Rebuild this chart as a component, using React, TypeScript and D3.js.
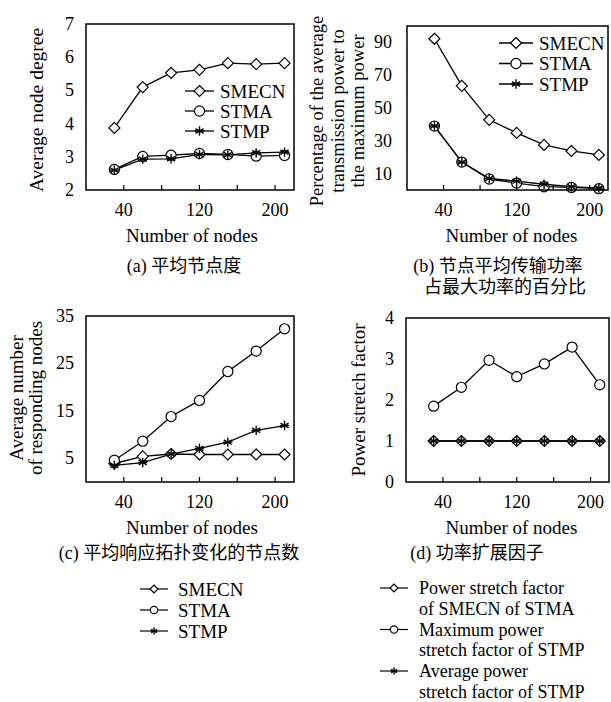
import React, { useEffect, useRef } from 'react';
import * as d3 from 'd3';

const nodeCounts = [30, 60, 90, 120, 150, 180, 210];
const xTicks = [40, 80, 120, 160, 200];
const xTickLabels = [40, 120, 200];

// (a) average node degree
const degreeSMECN = [3.87, 5.1, 5.53, 5.62, 5.82, 5.79, 5.82];
const degreeSTMA = [2.62, 3.01, 3.05, 3.1, 3.07, 3.02, 3.04];
const degreeSTMP = [2.6, 2.93, 2.94, 3.07, 3.06, 3.12, 3.14];
const degreeTicks = [2, 3, 4, 5, 6, 7];

// (b) percentage of average transmission power
const powerSMECN = [92.2, 63.5, 42.8, 34.8, 27.5, 23.8, 21.4];
const powerSTMA = [39, 17, 6.7, 4.2, 2.0, 1.6, 0.8];
const powerSTMP = [39, 17, 7.0, 5.4, 3.5, 2.0, 1.2];
const powerTicks = [10, 30, 50, 70, 90];

// (c) average number of responding nodes
const respSMECN = [3.9, 5.4, 5.9, 5.8, 5.8, 5.8, 5.8];
const respSTMA = [4.6, 8.6, 13.8, 17.2, 23.3, 27.6, 32.3];
const respSTMP = [3.5, 4.1, 5.9, 7.1, 8.4, 10.9, 11.9];
const respTicks = [5, 15, 25, 35];

// (d) power stretch factor
const stretchSMECN = [1, 1, 1, 1, 1, 1, 1];
const stretchMaxSTMP = [1.85, 2.31, 2.97, 2.57, 2.88, 3.29, 2.37];
const stretchAvgSTMP = [1, 1, 1, 1, 1, 1, 1];
const stretchTicks = [0, 1, 2, 3, 4];

const algoNames = ['SMECN', 'STMA', 'STMP'];
const stretchNames = [
  ['Power stretch factor', 'of SMECN of STMA'],
  ['Maximum power', 'stretch factor of STMP'],
  ['Average power', 'stretch factor of STMP']
];

const SERIF = "'Liberation Serif', 'Times New Roman', serif";
const CAPTION_FONT = "'Liberation Serif', 'Noto Sans CJK SC', serif";

const drawMarker = (g, type, x, y, s) => {
  if (type === 'diamond') {
    g.append('path')
      .attr('d', `M${x},${y - s}L${x + s},${y}L${x},${y + s}L${x - s},${y}Z`)
      .attr('fill', 'white')
      .attr('stroke', 'black')
      .attr('stroke-width', 1.2);
  } else if (type === 'circle') {
    g.append('circle')
      .attr('cx', x).attr('cy', y).attr('r', s * 0.92)
      .attr('fill', 'white')
      .attr('stroke', 'black')
      .attr('stroke-width', 1.2);
  } else {
    const r = s * 0.85;
    [90, 30, 150, 0].forEach(a => {
      const dx = Math.cos((a * Math.PI) / 180) * r;
      const dy = Math.sin((a * Math.PI) / 180) * r;
      g.append('line')
        .attr('x1', x - dx).attr('y1', y - dy)
        .attr('x2', x + dx).attr('y2', y + dy)
        .attr('stroke', 'black')
        .attr('stroke-width', 1.4);
    });
  }
};

const markers = ['diamond', 'circle', 'star'];

const drawPanel = (svg, p) => {
  const x = d3.scaleLinear().domain([0, 220]).range([p.left, p.right]);
  const y = d3.scaleLinear().domain(p.yDomain).range([p.bottom, p.top]);
  const g = svg.append('g');

  // series
  const line = d3.line()
    .x((d, i) => x(nodeCounts[i]))
    .y(d => y(d));
  p.series.forEach(s => {
    g.append('path')
      .datum(s.values)
      .attr('fill', 'none')
      .attr('stroke', 'black')
      .attr('stroke-width', 1.3)
      .attr('d', line);
  });
  p.series.forEach(s => {
    s.values.forEach((v, i) => drawMarker(g, s.marker, x(nodeCounts[i]), y(v), 5.5));
  });

  // frame
  g.append('rect')
    .attr('x', p.left).attr('y', p.top)
    .attr('width', p.right - p.left).attr('height', p.bottom - p.top)
    .attr('fill', 'none')
    .attr('stroke', 'black')
    .attr('stroke-width', 1.5);

  // x ticks (inward)
  xTicks.forEach(t => {
    g.append('line')
      .attr('x1', x(t)).attr('x2', x(t))
      .attr('y1', p.bottom).attr('y2', p.bottom - 5)
      .attr('stroke', 'black')
      .attr('stroke-width', 1.2);
  });
  xTickLabels.forEach(t => {
    g.append('text')
      .attr('x', x(t)).attr('y', p.bottom + 26)
      .attr('text-anchor', 'middle')
      .style('font-family', SERIF)
      .style('font-size', '18px')
      .text(t);
  });

  // y tick labels
  p.yTicks.forEach(t => {
    g.append('text')
      .attr('x', p.left - p.yTickGap).attr('y', y(t))
      .attr('text-anchor', 'end')
      .attr('dominant-baseline', 'central')
      .style('font-family', SERIF)
      .style('font-size', '18px')
      .text(t);
  });

  // x label
  g.append('text')
    .attr('x', (p.left + p.right) / 2 + p.xLabelShift).attr('y', p.bottom + 52)
    .attr('text-anchor', 'middle')
    .style('font-family', SERIF)
    .style('font-size', '19px')
    .text('Number of nodes');

  // y label
  p.yLabel.forEach((t, i) => {
    const cx = p.yLabelX[i];
    g.append('text')
      .attr('transform', `translate(${cx},${p.yLabelY}) rotate(-90)`)
      .attr('text-anchor', 'middle')
      .attr('dominant-baseline', 'central')
      .style('font-family', SERIF)
      .style('font-size', p.yLabelSize)
      .text(t);
  });

  // caption
  p.caption.forEach((t, i) => {
    g.append('text')
      .attr('x', p.captionX[i]).attr('y', p.captionY + i * 21)
      .attr('text-anchor', 'middle')
      .attr('dominant-baseline', 'central')
      .style('font-family', CAPTION_FONT)
      .style('font-size', '18px')
      .text(t);
  });

  // inner legend
  if (p.legend) {
    const L = p.legend;
    algoNames.forEach((name, i) => {
      const ly = L.y + i * L.step;
      g.append('line')
        .attr('x1', L.x1).attr('x2', L.x2)
        .attr('y1', ly).attr('y2', ly)
        .attr('stroke', 'black')
        .attr('stroke-width', 1.3);
      drawMarker(g, markers[i], (L.x1 + L.x2) / 2, ly, 5.5);
      g.append('text')
        .attr('x', L.x2 + 6).attr('y', ly)
        .attr('dominant-baseline', 'central')
        .style('font-family', SERIF)
        .style('font-size', '19px')
        .text(name);
    });
  }
};

const App = () => {
  const svgRef = useRef(null);

  useEffect(() => {
    const svg = d3.select(svgRef.current);
    svg.selectAll('*').remove();

    drawPanel(svg, {
      left: 86, right: 294, top: 24, bottom: 190,
      yDomain: [2, 7], yTicks: degreeTicks, yTickGap: 12,
      series: [
        { values: degreeSMECN, marker: 'diamond' },
        { values: degreeSTMA, marker: 'circle' },
        { values: degreeSTMP, marker: 'star' }
      ],
      yLabel: ['Average node degree'], yLabelX: [36], yLabelY: 110, yLabelSize: '19.5px',
      xLabelShift: 2,
      caption: ['(a) 平均节点度'], captionX: [184], captionY: 266,
      legend: { x1: 185, x2: 214, y: 91, step: 20 }
    });

    drawPanel(svg, {
      left: 407, right: 608, top: 26, bottom: 190,
      yDomain: [0, 100], yTicks: powerTicks, yTickGap: 15,
      series: [
        { values: powerSMECN, marker: 'diamond' },
        { values: powerSTMA, marker: 'circle' },
        { values: powerSTMP, marker: 'star' }
      ],
      yLabel: ['Percentage of the average', 'transmission power to', 'the maximum power'],
      yLabelX: [317, 337.5, 357.5], yLabelY: 111, yLabelSize: '18.5px',
      xLabelShift: 4,
      caption: ['(b) 节点平均传输功率', '占最大功率的百分比'], captionX: [498, 505], captionY: 266,
      legend: { x1: 499, x2: 533, y: 43, step: 20.5 }
    });

    drawPanel(svg, {
      left: 86, right: 294, top: 316, bottom: 482,
      yDomain: [0, 35], yTicks: respTicks, yTickGap: 12,
      series: [
        { values: respSMECN, marker: 'diamond' },
        { values: respSTMA, marker: 'circle' },
        { values: respSTMP, marker: 'star' }
      ],
      yLabel: ['Average number', 'of responding nodes'], yLabelX: [16, 35], yLabelY: 398, yLabelSize: '19px',
      xLabelShift: 2,
      caption: ['(c) 平均响应拓扑变化的节点数'], captionX: [179], captionY: 553
    });

    drawPanel(svg, {
      left: 406, right: 609, top: 318, bottom: 482,
      yDomain: [0, 4], yTicks: stretchTicks, yTickGap: 12,
      series: [
        { values: stretchSMECN, marker: 'diamond' },
        { values: stretchMaxSTMP, marker: 'circle' },
        { values: stretchAvgSTMP, marker: 'star' }
      ],
      yLabel: ['Power stretch factor'], yLabelX: [358], yLabelY: 400, yLabelSize: '19px',
      xLabelShift: 4,
      caption: ['(d) 功率扩展因子'], captionX: [477], captionY: 553
    });

    // bottom-left legend
    algoNames.forEach((name, i) => {
      const ly = 589 + i * 21;
      svg.append('line')
        .attr('x1', 140).attr('x2', 168)
        .attr('y1', ly).attr('y2', ly)
        .attr('stroke', 'black')
        .attr('stroke-width', 1.2);
      drawMarker(svg, markers[i], 154, ly, 4);
      svg.append('text')
        .attr('x', 178).attr('y', ly)
        .attr('dominant-baseline', 'central')
        .style('font-family', SERIF)
        .style('font-size', '19px')
        .text(name);
    });

    // bottom-right legend
    stretchNames.forEach((lines, i) => {
      const ly = 588 + i * 41.5;
      svg.append('line')
        .attr('x1', 380).attr('x2', 408)
        .attr('y1', ly).attr('y2', ly)
        .attr('stroke', 'black')
        .attr('stroke-width', 1.2);
      drawMarker(svg, markers[i], 394, ly, 4);
      lines.forEach((t, j) => {
        svg.append('text')
          .attr('x', 419).attr('y', ly + j * 20.5)
          .attr('dominant-baseline', 'central')
          .style('font-family', SERIF)
          .style('font-size', '18px')
          .text(t);
      });
    });
  }, []);

  return (
    <svg
      ref={svgRef}
      width={611}
      height={702}
      style={{ position: 'absolute', left: 0, top: 0, background: 'white' }}
    />
  );
};

export default App;
